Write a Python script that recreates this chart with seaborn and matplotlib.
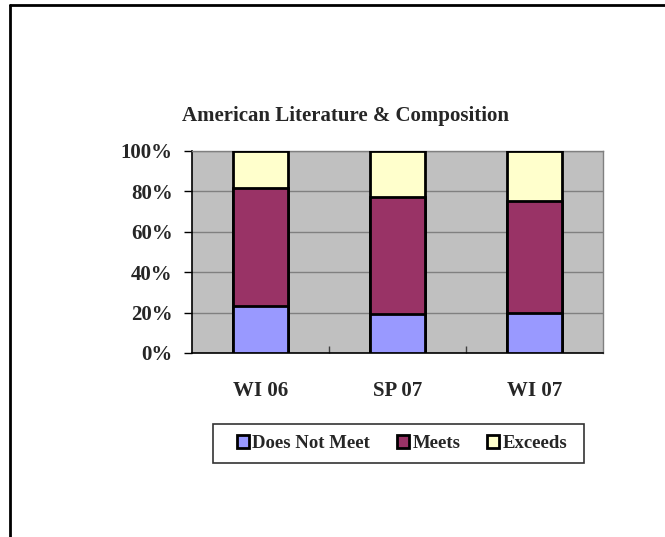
import pandas as pd
import numpy as np
import matplotlib
matplotlib.use('Agg')
import matplotlib.pyplot as plt
import seaborn as sns
from matplotlib.patches import Patch, Rectangle
from matplotlib.lines import Line2D

terms = ['WI 06', 'SP 07', 'WI 07']
does_not_meet = [23.3, 19.2, 19.8]
meets = [58.5, 57.9, 55.6]
exceeds = [18.2, 22.9, 24.6]

levels = ['Does Not Meet', 'Meets', 'Exceeds']
colors = ['#9999FF', '#993366', '#FFFFCC']

sns.set_style('white')
plt.rcParams['font.family'] = ['Liberation Serif', 'DejaVu Serif']
plt.rcParams['font.weight'] = 'bold'

df = pd.DataFrame({'term': terms, 'Does Not Meet': does_not_meet,
                   'Meets': meets, 'Exceeds': exceeds})
df = df.set_index('term')
share = df.div(df.sum(axis=1), axis=0) * 100
cum = share.cumsum(axis=1).reset_index()

fig = plt.figure(figsize=(6.65, 5.37), dpi=100)
ax = fig.add_axes([192 / 665, 1 - 353 / 537, 411 / 665, 202 / 537])
ax.set_facecolor('#C0C0C0')

# draw from the top layer down so each shorter bar sits over the taller one
for level, color in reversed(list(zip(levels, colors))):
    sns.barplot(data=cum, x='term', y=level, color=color, ax=ax,
                width=0.4, edgecolor='black', linewidth=2, saturation=1,
                zorder=3)

ax.set_ylim(0, 100)
ax.set_xlim(-0.5, 2.5)
ax.set_yticks(np.arange(0, 101, 20))
ax.set_yticklabels([f'{v}%' for v in range(0, 101, 20)])
ax.yaxis.grid(True, color='#808080', linewidth=1, zorder=0)
ax.set_axisbelow(True)
ax.set_xlabel('')
ax.set_ylabel('')

ax.tick_params(axis='y', direction='out', length=6, width=1, color='black',
               pad=8, labelsize=15, left=True)
ax.tick_params(axis='x', length=0, pad=20, labelsize=15)
ax.set_xticks([0.5, 1.5], minor=True)
ax.tick_params(axis='x', which='minor', direction='in', length=5, width=1,
               color='#404040', bottom=True)

for side in ['top', 'right']:
    ax.spines[side].set_color('#808080')
    ax.spines[side].set_linewidth(1)
for side in ['left', 'bottom']:
    ax.spines[side].set_color('black')
    ax.spines[side].set_linewidth(1.2)

fig.text(346 / 665, 1 - 116 / 537, 'American Literature & Composition',
         ha='center', va='center', fontsize=15, fontweight='bold')

handles = [Patch(facecolor=c, edgecolor='black', linewidth=2, label=l)
           for l, c in zip(levels, colors)]
leg = fig.legend(handles=handles, loc='center', ncol=3,
                 bbox_to_anchor=(402 / 665, 1 - 443.5 / 537),
                 fontsize=13.5, frameon=False,
                 handlelength=0.65, handleheight=0.65,
                 handletextpad=0.2, columnspacing=1.4)

# legend box, drawn separately so it can be wider than the entries
fig.add_artist(Rectangle((213 / 665, 1 - 463 / 537), 371 / 665, 39 / 537,
                         facecolor='none', edgecolor='#333333', linewidth=1.2,
                         transform=fig.transFigure))

# outer chart frame: top and left edges only
fig.add_artist(Line2D([10 / 665, 1], [1 - 5 / 537, 1 - 5 / 537],
                      color='black', linewidth=2, transform=fig.transFigure))
fig.add_artist(Line2D([10 / 665, 10 / 665], [0, 1 - 5 / 537],
                      color='black', linewidth=2, transform=fig.transFigure))

fig.savefig('out.png', dpi=100)
